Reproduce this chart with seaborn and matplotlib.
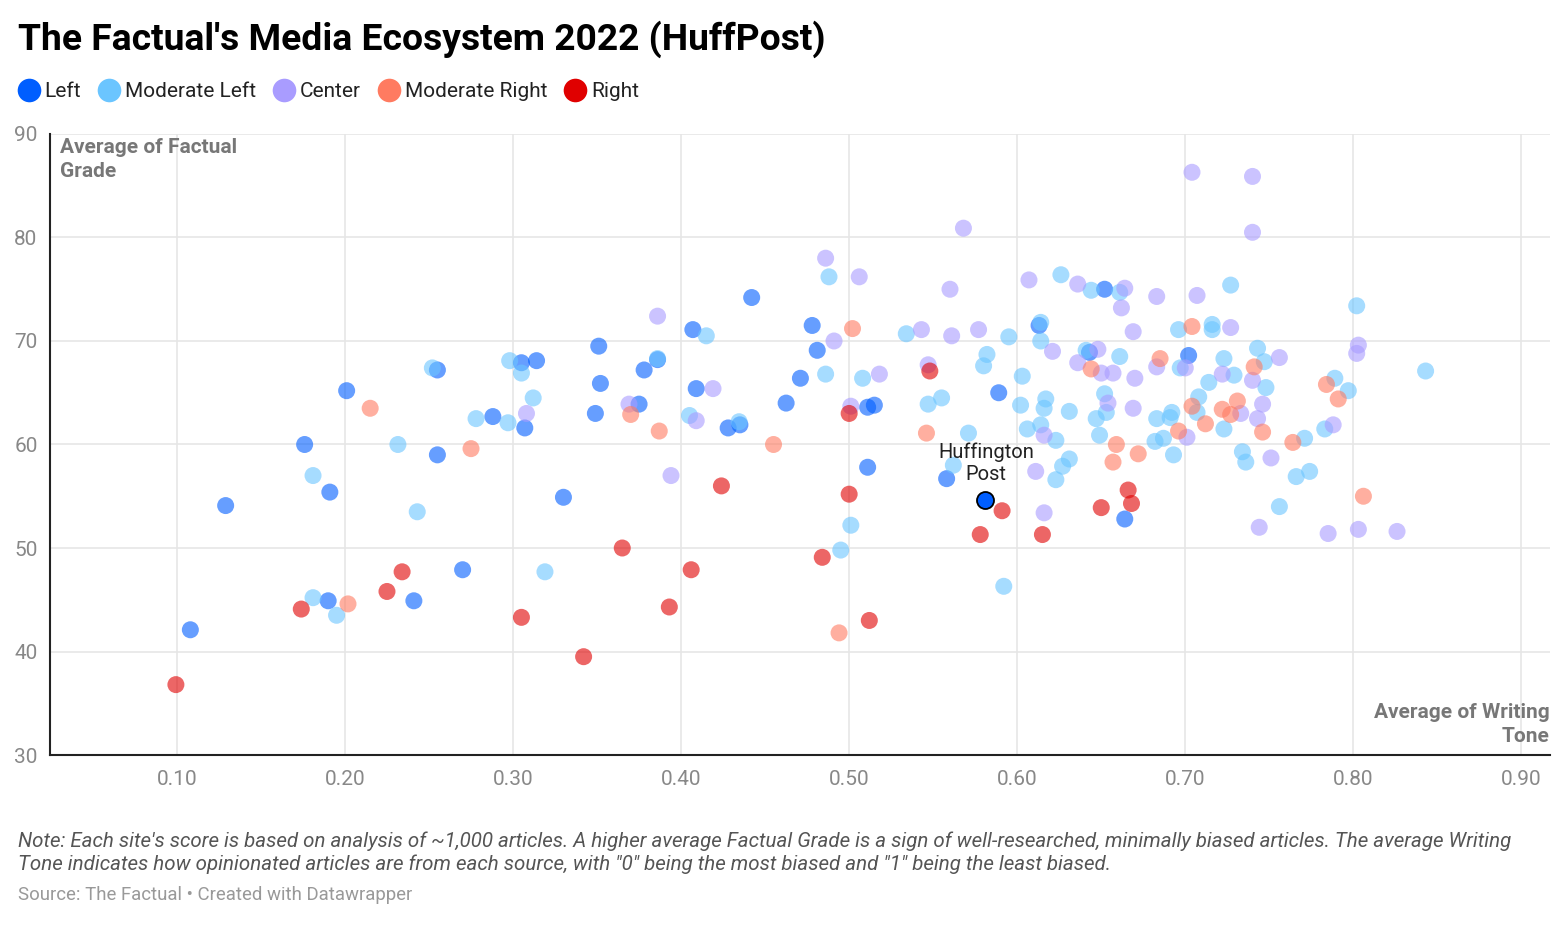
import numpy as np
import pandas as pd
import seaborn as sns
import matplotlib.pyplot as plt
from matplotlib.lines import Line2D

# writing tone (x) and factual grade (y), one pair of lists per leaning
left_tone = [0.108, 0.129, 0.176, 0.191, 0.201, 0.190, 0.241, 0.255, 0.255, 0.270,
             0.288, 0.305, 0.314, 0.307, 0.330, 0.351, 0.352, 0.349, 0.378, 0.386,
             0.375, 0.407, 0.409, 0.428, 0.435, 0.442, 0.4625, 0.471, 0.478, 0.481,
             0.511, 0.515, 0.511, 0.558, 0.589, 0.613, 0.643, 0.652, 0.664, 0.702]
left_grade = [42.1, 54.1, 60.0, 55.4, 65.2, 44.9, 44.9, 67.2, 59.0, 47.9,
              62.7, 67.9, 68.1, 61.6, 54.9, 69.5, 65.9, 63.0, 67.2, 68.2,
              63.9, 71.1, 65.4, 61.6, 61.9, 74.2, 64.0, 66.4, 71.5, 69.1,
              63.6, 63.8, 57.8, 56.7, 65.0, 71.5, 68.9, 75.0, 52.8, 68.6]

modleft_tone = [0.181, 0.181, 0.195, 0.2315, 0.243, 0.252, 0.278, 0.298, 0.305, 0.297,
                0.312, 0.319, 0.386, 0.405, 0.415, 0.4345, 0.488, 0.486, 0.508, 0.501,
                0.495, 0.534, 0.547, 0.555, 0.571, 0.562, 0.582, 0.580, 0.595, 0.603,
                0.602, 0.606, 0.592, 0.614, 0.614, 0.617, 0.616, 0.614, 0.631, 0.623,
                0.631, 0.627, 0.623, 0.626, 0.644, 0.661, 0.641, 0.661, 0.652, 0.653,
                0.647, 0.649, 0.683, 0.687, 0.682, 0.693, 0.692, 0.691, 0.696, 0.697,
                0.708, 0.707, 0.714, 0.716, 0.716, 0.723, 0.729, 0.727, 0.723, 0.734,
                0.736, 0.743, 0.747, 0.748, 0.756, 0.766, 0.774, 0.771, 0.783, 0.789,
                0.797, 0.802, 0.843]
modleft_grade = [57.0, 45.2, 43.5, 60.0, 53.5, 67.4, 62.5, 68.1, 66.9, 62.1,
                 64.5, 47.7, 68.3, 62.8, 70.5, 62.2, 76.2, 66.8, 66.4, 52.2,
                 49.8, 70.7, 63.9, 64.5, 61.1, 58.0, 68.7, 67.6, 70.4, 66.6,
                 63.8, 61.5, 46.3, 71.8, 70.0, 64.4, 63.5, 61.9, 63.2, 60.4,
                 58.6, 57.9, 56.6, 76.4, 74.9, 74.7, 69.1, 68.5, 64.9, 63.1,
                 62.5, 60.9, 62.5, 60.6, 60.3, 59.0, 63.1, 62.6, 71.1, 67.4,
                 64.6, 63.1, 66.0, 71.6, 71.1, 68.3, 66.7, 75.4, 61.5, 59.3,
                 58.3, 69.3, 68.0, 65.5, 54.0, 56.9, 57.4, 60.6, 61.5, 66.4,
                 65.2, 73.4, 67.1]

center_tone = [0.308, 0.369, 0.386, 0.419, 0.409, 0.394, 0.486, 0.491, 0.506, 0.501,
               0.518, 0.543, 0.560, 0.561, 0.568, 0.577, 0.547, 0.607, 0.621, 0.636,
               0.664, 0.662, 0.669, 0.636, 0.648, 0.650, 0.657, 0.670, 0.654, 0.669,
               0.616, 0.611, 0.616, 0.683, 0.707, 0.727, 0.704, 0.740, 0.740, 0.756,
               0.803, 0.802, 0.683, 0.700, 0.722, 0.740, 0.746, 0.733, 0.743, 0.788,
               0.701, 0.751, 0.744, 0.785, 0.803, 0.826]
center_grade = [63.0, 63.9, 72.4, 65.4, 62.3, 57.0, 78.0, 70.0, 76.2, 63.7,
                66.8, 71.1, 75.0, 70.5, 80.9, 71.1, 67.7, 75.9, 69.0, 75.5,
                75.1, 73.2, 70.9, 67.9, 69.2, 66.9, 66.9, 66.4, 64.0, 63.5,
                60.9, 57.4, 53.4, 74.3, 74.4, 71.3, 86.3, 85.9, 80.5, 68.4,
                69.6, 68.8, 67.5, 67.4, 66.8, 66.2, 63.9, 63.0, 62.5, 61.9,
                60.7, 58.7, 52.0, 51.4, 51.8, 51.6]

modright_tone = [0.215, 0.275, 0.2018, 0.370, 0.387, 0.455, 0.502, 0.546, 0.494, 0.659,
                 0.657, 0.672, 0.644, 0.704, 0.685, 0.741, 0.704, 0.712, 0.696, 0.722,
                 0.727, 0.731, 0.746, 0.764, 0.784, 0.791, 0.806]
modright_grade = [63.5, 59.6, 44.6, 62.9, 61.3, 60.0, 71.2, 61.1, 41.8, 60.0,
                  58.3, 59.1, 67.3, 71.4, 68.3, 67.5, 63.7, 62.0, 61.3, 63.4,
                  62.9, 64.2, 61.2, 60.2, 65.8, 64.4, 55.0]

right_tone = [0.0994, 0.174, 0.225, 0.234, 0.305, 0.342, 0.365, 0.393, 0.406, 0.424,
              0.500, 0.484, 0.512, 0.500, 0.548, 0.578, 0.591, 0.615, 0.650, 0.666,
              0.668]
right_grade = [36.8, 44.1, 45.8, 47.7, 43.3, 39.5, 50.0, 44.3, 47.9, 56.0,
               55.2, 49.1, 43.0, 63.0, 67.1, 51.3, 53.6, 51.3, 53.9, 55.6,
               54.3]

huffpost_tone = 0.581
huffpost_grade = 54.6

leanings = ['Left', 'Moderate Left', 'Center', 'Moderate Right', 'Right']
colors = ['#005eff', '#6bc5ff', '#a99cff', '#ff7b61', '#e00000']

x_ticks = [0.10, 0.20, 0.30, 0.40, 0.50, 0.60, 0.70, 0.80, 0.90]
y_ticks = [30, 40, 50, 60, 70, 80, 90]

frames = []
for name, xs, ys in zip(leanings,
                        [left_tone, modleft_tone, center_tone, modright_tone, right_tone],
                        [left_grade, modleft_grade, center_grade, modright_grade, right_grade]):
    frames.append(pd.DataFrame({'tone': xs, 'grade': ys, 'leaning': name}))
df = pd.concat(frames).reset_index(drop=True)

sns.set_theme(style='white')
plt.rcParams['font.family'] = ['Roboto', 'DejaVu Sans']

fig = plt.figure(figsize=(15.68, 9.35), dpi=100)
ax = fig.add_axes([0.0319, 0.1925, 0.9566, 0.6642])

sns.scatterplot(data=df, x='tone', y='grade', hue='leaning', hue_order=leanings,
                palette=colors, s=150, alpha=0.6, linewidth=0, ax=ax, legend=False, zorder=3)

# highlighted point
ax.scatter([huffpost_tone], [huffpost_grade], s=150, color='#005eff',
           edgecolor='black', linewidth=1.3, zorder=5)
ax.text(huffpost_tone + 0.0005, huffpost_grade + 1.6, 'Huffington\nPost', ha='center', va='bottom',
        fontsize=14.5, color='#222222', linespacing=1.2, zorder=6)

ax.set_xlim(0.0245, 0.917)
ax.set_ylim(30, 90)
ax.set_xticks(x_ticks)
ax.set_xticklabels(['%.2f' % t for t in x_ticks])
ax.set_yticks(y_ticks)
ax.set_xlabel('')
ax.set_ylabel('')
ax.grid(True, color='#e6e6e6', linewidth=1.2, zorder=0)
ax.set_axisbelow(True)
ax.tick_params(axis='both', length=0, labelsize=15, labelcolor='#888888')
ax.tick_params(axis='x', pad=11)
ax.tick_params(axis='y', pad=9)
for sp in ['top', 'right']:
    ax.spines[sp].set_visible(False)
for sp in ['left', 'bottom']:
    ax.spines[sp].set_color('#222222')
    ax.spines[sp].set_linewidth(1.5)

ax.text(0.0065, 0.993, 'Average of Factual\nGrade', transform=ax.transAxes, ha='left', va='top',
        fontsize=15, fontweight='bold', color='#777777', linespacing=1.3)
ax.text(1.0, 0.015, 'Average of Writing\nTone', transform=ax.transAxes, ha='right', va='bottom',
        fontsize=15, fontweight='bold', color='#777777', linespacing=1.3)

fig.text(0.0115, 0.958, "The Factual's Media Ecosystem 2022 (HuffPost)", ha='left', va='center',
         fontsize=26.8, fontweight='bold', color='black')

handles = [Line2D([0], [0], marker='o', linestyle='', markersize=17, markerfacecolor=c,
                  markeredgewidth=0) for c in colors]
fig.legend(handles, leanings, loc='center left', bbox_to_anchor=(0.0112, 0.902), ncol=5,
           frameon=False, fontsize=15, handletextpad=0.2, columnspacing=0.8,
           handlelength=1.1, borderpad=0, borderaxespad=0, labelcolor='#222222')

fig.text(0.0115, 0.088, "Note: Each site's score is based on analysis of ~1,000 articles. A higher average Factual Grade "
         "is a sign of well-researched, minimally biased articles. The average Writing\nTone indicates how opinionated "
         "articles are from each source, with \"0\" being the most biased and \"1\" being the least biased.",
         ha='left', va='center', fontsize=14.8, style='italic', color='#555555', linespacing=1.25)
fig.text(0.0115, 0.043, 'Source: The Factual \u2022 Created with Datawrapper', ha='left', va='center',
         fontsize=13.4, color='#999999')

fig.savefig('out.png', dpi=100)
